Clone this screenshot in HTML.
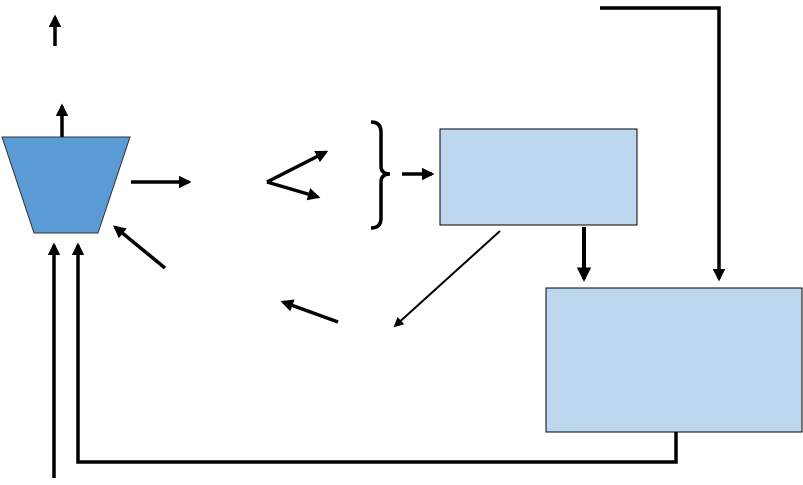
<!DOCTYPE html>
<html><head><style>body{margin:0;background:#fff}svg{display:block}</style></head><body>
<svg width="803" height="485" viewBox="0 0 803 485" xmlns="http://www.w3.org/2000/svg">
<defs>
<marker id="a" viewBox="0 0 10 10" refX="8" refY="5" markerWidth="3.6" markerHeight="3.6" orient="auto"><path d="M0,0L10,5L0,10z" fill="#000"/></marker>
<marker id="b" viewBox="0 0 10 10" refX="8" refY="5" markerWidth="5" markerHeight="5" orient="auto"><path d="M0,0L10,5L0,10z" fill="#000"/></marker>
</defs>
<polygon points="2,137 130,137 98,233 34,233" fill="#5b9bd5" stroke="#333" stroke-width="1"/>
<rect x="440" y="129" width="197" height="96" fill="#bdd7ee" stroke="#000" stroke-width="1"/>
<rect x="546" y="288" width="256" height="144" fill="#bdd7ee" stroke="#000" stroke-width="1"/>
<g stroke="#000" fill="none">
<line x1="55" y1="46" x2="55" y2="17" stroke-width="3.5" marker-end="url(#a)"/>
<line x1="62" y1="137" x2="62" y2="106" stroke-width="3.5" marker-end="url(#a)"/>
<line x1="131" y1="182" x2="189" y2="182" stroke-width="3.5" marker-end="url(#a)"/>
<line x1="267" y1="182" x2="326" y2="152" stroke-width="3.5" marker-end="url(#a)"/>
<line x1="267" y1="182" x2="318" y2="197" stroke-width="3.5" marker-end="url(#a)"/>
<path d="M371,122 Q381,122 381,132 L381,166 Q381,174 390,174 Q381,174 381,182 L381,218 Q381,228 371,228" stroke-width="3.5"/>
<line x1="402" y1="174" x2="432" y2="174" stroke-width="3.5" marker-end="url(#a)"/>
<line x1="500" y1="231" x2="395" y2="326" stroke-width="2" marker-end="url(#b)"/>
<line x1="338" y1="322" x2="283" y2="302" stroke-width="3.5" marker-end="url(#a)"/>
<line x1="165" y1="268" x2="115" y2="227" stroke-width="3.5" marker-end="url(#a)"/>
<line x1="584" y1="227" x2="584" y2="279" stroke-width="4" marker-end="url(#a)"/>
<polyline points="600,8 719,8 719,279" stroke-width="3.5" marker-end="url(#a)"/>
<polyline points="676,432 676,462 78,462 78,245" stroke-width="3.5" marker-end="url(#a)"/>
<line x1="54" y1="478" x2="54" y2="245" stroke-width="3.5" marker-end="url(#a)"/>
</g>
</svg>
</body></html>
